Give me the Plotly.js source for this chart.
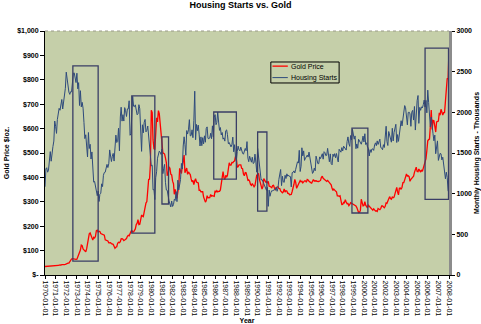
<!DOCTYPE html>
<html>
<head>
<meta charset="utf-8">
<script src="https://cdn.plot.ly/plotly-3.0.1.min.js"></script>
<style>
  html, body { margin: 0; padding: 0; background: #ffffff; }
  #chart { width: 481px; height: 324px; }
</style>
</head>
<body>
<div id="chart"></div>
<script>
// Monthly series, Jan 1970 .. Jan 2008
var startYear = 1970;
var seriesNames = ['Gold Price', 'Housing Starts'];
var housingStarts = [
  1085,1305,1319,1264,1290,1385,1517,1399,1534,1580,1647,1893,
  1828,1741,1910,1986,2049,2026,2083,2158,2041,2128,2182,2295,
  2494,2390,2334,2249,2221,2254,2252,2382,2481,2485,2421,2366,
  2481,2289,2365,2084,2266,2067,2123,2051,1874,1677,1724,1526,
  1451,1752,1555,1607,1426,1513,1316,1142,1150,1070,1026,975,
  1032,904,993,1005,1121,1087,1226,1260,1264,1344,1360,1321,
  1367,1538,1421,1395,1459,1495,1401,1550,1720,1629,1641,1804,
  1527,1943,2063,1892,1971,1893,2058,2020,1949,2042,2042,2142,
  1718,1738,2032,2197,2075,2070,2092,1996,1970,1981,2094,2044,
  1630,1520,1847,1748,1876,1913,1760,1778,1832,1681,1524,1498,
  1341,1350,1047,1051,927,1196,1269,1436,1471,1523,1510,1482,
  1547,1246,1306,1360,1140,1045,1041,940,911,873,837,910,
  843,866,931,917,1025,902,1166,1046,1144,1173,1372,1303,
  1586,1699,1606,1472,1776,1733,1785,1910,1710,1715,1785,1688,
  1897,2260,1663,1851,1774,1843,1732,1586,1698,1590,1689,1612,
  1711,1632,1800,1821,1680,1676,1684,1743,1676,1834,1698,1942,
  1972,1848,1876,2004,1880,1778,1813,1722,1752,1670,1686,1646,
  1774,1784,1726,1614,1628,1594,1575,1605,1695,1515,1602,1461,
  1399,1519,1584,1539,1527,1572,1523,1498,1485,1544,1556,1528,
  1640,1437,1393,1460,1400,1387,1448,1371,1379,1486,1387,1264,
  1557,1464,1302,1227,1168,1174,1156,1123,1095,1051,1041,1078,
  844,1044,968,1013,1037,1036,1040,1049,1043,1079,1029,1069,
  1176,1250,1297,1099,1214,1145,1139,1226,1186,1244,1214,1227,
  1210,1210,1083,1258,1260,1280,1254,1300,1343,1392,1376,1533,
  1272,1337,1564,1465,1526,1409,1439,1450,1474,1450,1511,1455,
  1407,1316,1249,1267,1314,1281,1461,1416,1369,1369,1452,1431,
  1467,1491,1424,1516,1504,1467,1472,1557,1475,1392,1489,1370,
  1355,1486,1457,1492,1442,1494,1437,1390,1546,1520,1510,1566,
  1525,1584,1567,1540,1536,1641,1698,1614,1582,1715,1660,1792,
  1748,1670,1710,1553,1611,1559,1669,1648,1635,1608,1648,1708,
  1636,1737,1604,1626,1575,1559,1463,1541,1507,1549,1551,1532,
  1600,1625,1590,1649,1605,1636,1670,1567,1562,1540,1602,1568,
  1698,1829,1642,1592,1764,1717,1655,1633,1804,1648,1753,1788,
  1853,1629,1726,1643,1751,1867,1897,1833,1939,1967,2083,2057,
  1911,1846,1998,2003,1981,1828,2002,2024,1905,2072,1782,2042,
  2144,2207,1864,2061,2025,2068,2054,2095,2151,2065,2147,1994,
  2273,2119,1969,1821,1942,1802,1737,1650,1720,1491,1570,1649,
  1409,1480,1495,1490,1415,1448,1354,1330,1183,1264,1197,1037,
  1010
];
var goldPrice = [
  34.9,35.0,35.1,35.6,35.9,35.4,35.3,35.4,36.2,37.5,37.4,37.4,
  37.9,38.7,38.9,39.0,40.5,40.1,41.0,42.7,42.0,42.5,42.9,43.5,
  45.8,48.3,48.3,49.0,54.6,62.1,65.7,67.0,65.5,64.9,62.9,63.9,
  65.1,74.2,84.4,90.5,102.0,122.5,120.2,106.7,103.0,100.1,94.8,106.7,
  129.2,150.2,168.4,172.2,163.3,154.1,143.0,154.6,151.8,158.8,181.7,183.9,
  176.3,179.6,178.2,169.9,167.4,164.3,165.0,163.0,144.1,142.8,142.8,139.3,
  131.6,131.0,132.6,128.2,127.8,125.5,117.8,109.3,114.2,116.0,130.3,133.9,
  132.3,136.3,148.2,149.2,146.6,140.8,143.1,144.9,149.6,158.3,162.4,160.6,
  173.2,178.2,183.7,175.6,176.2,183.3,188.8,206.7,212.5,227.3,206.3,207.8,
  227.3,245.7,242.0,239.2,257.6,279.1,294.7,300.8,355.2,391.7,392.5,455.1,
  675.3,665.3,553.6,517.4,513.8,600.7,644.3,627.2,673.6,661.2,623.5,594.9,
  557.4,500.5,498.6,495.8,479.7,460.8,409.3,410.2,443.6,437.8,413.4,410.1,
  384.4,374.2,330.8,350.5,333.5,314.0,340.4,364.8,436.9,422.2,415.8,444.4,
  481.3,491.3,419.4,432.5,438.4,412.7,422.4,416.5,411.8,393.6,381.5,388.0,
  370.9,386.0,394.8,381.1,377.7,377.6,347.4,348.0,341.1,340.2,341.2,320.2,
  303.0,298.6,304.0,324.9,316.5,316.4,317.2,330.1,323.5,325.3,325.3,322.3,
  345.4,338.9,345.7,340.4,342.4,342.6,348.7,376.4,418.2,423.5,399.0,391.0,
  408.3,401.1,408.9,438.4,460.1,450.0,450.0,461.1,460.1,465.4,467.4,486.3,
  476.6,442.1,443.6,451.6,451.5,451.4,437.4,435.8,413.3,406.6,420.1,418.7,
  404.0,388.0,390.0,384.1,371.0,367.6,375.0,365.4,361.8,366.7,394.3,409.4,
  410.1,416.7,393.1,374.3,369.0,352.2,362.5,394.8,389.3,380.8,381.9,378.2,
  383.6,363.8,363.3,358.4,357.4,366.7,367.7,356.3,348.7,358.7,360.0,361.7,
  354.5,353.9,344.3,338.6,337.2,340.8,353.1,340.0,345.4,344.4,335.0,334.8,
  329.0,329.3,330.1,342.2,367.2,371.9,392.0,379.8,355.3,364.2,373.8,383.3,
  386.9,381.7,384.2,377.5,381.9,385.6,385.5,380.4,391.6,389.8,384.4,379.3,
  378.6,376.5,382.3,391.2,385.4,387.6,386.2,383.7,383.1,383.1,385.3,387.5,
  399.9,404.8,396.3,392.9,391.9,385.3,383.5,387.5,383.1,381.1,377.9,369.3,
  355.0,346.6,351.8,344.5,343.8,340.8,324.1,324.0,322.8,324.9,306.0,288.7,
  289.1,297.5,295.9,308.4,299.1,292.3,292.9,284.1,288.9,296.1,294.1,291.6,
  287.1,287.3,285.9,282.6,276.4,261.3,256.1,256.7,264.7,310.7,293.2,283.1,
  284.6,300.9,286.4,279.8,275.3,285.7,281.6,274.5,273.7,270.1,266.0,271.5,
  265.5,261.9,263.0,260.5,272.4,270.2,267.5,272.4,283.4,283.1,276.2,275.9,
  281.7,295.5,294.0,302.7,314.5,321.2,313.3,310.3,319.2,316.6,319.1,332.6,
  356.9,359.0,340.6,328.2,355.7,356.4,351.0,359.8,378.9,378.9,389.9,407.6,
  414.0,405.3,406.7,403.0,383.8,392.4,398.1,400.5,405.3,420.5,439.4,441.8,
  424.0,423.4,434.2,429.2,421.9,430.7,424.5,437.9,456.0,469.9,476.7,509.8,
  549.9,555.0,557.1,610.6,676.5,596.2,633.7,632.6,598.2,585.8,627.8,629.8,
  631.2,664.8,654.9,679.4,666.9,655.5,665.3,665.4,712.7,754.6,806.3,803.2,
  925.0
];

// Highlight boxes: [start date, end date, low, high] on the gold-price axis
var boxStart = ['1972-08-15','1978-03-01','1981-01-01','1985-11-15','1990-01-01','1998-11-15','2005-10-01'];
var boxEnd   = ['1975-01-01','1980-05-01','1981-08-15','1988-01-01','1990-11-15','2000-05-15','2007-12-15'];
var boxLow   = [57, 172, 291, 393, 262, 254, 310];
var boxHigh  = [857, 734, 566, 668, 586, 602, 930];

var goldTickVals = [0,100,200,300,400,500,600,700,800,900,1000];
var goldTickText = ['$-','$100','$200','$300','$400','$500','$600','$700','$800','$900','$1,000'];
var housingTickVals = [0,500,1000,1500,2000,2500,3000];

var seriesColors = ['#ff0000', '#2e4a7c'];

function pad(n){ return (n < 10 ? '0' : '') + n; }
var dates = [];
for (var i = 0; i < goldPrice.length; i++) {
  var y = startYear + Math.floor(i / 12);
  var m = (i % 12) + 1;
  dates.push(y + '-' + pad(m) + '-01');
}

var FONT = 'Liberation Sans, Arial, sans-serif';
var boxColor = '#3a3e66';

var shapes = [];
for (var b = 0; b < boxStart.length; b++) {
  shapes.push({
    type: 'rect', xref: 'x', yref: 'y',
    x0: boxStart[b], x1: boxEnd[b], y0: boxLow[b], y1: boxHigh[b],
    line: { color: boxColor, width: 1.3 }, fillcolor: 'rgba(0,0,0,0)', layer: 'above'
  });
}
// dotted top border of the plot area
shapes.push({
  type: 'line', xref: 'paper', yref: 'paper', x0: 0, x1: 1, y0: 1, y1: 1,
  line: { color: '#9a9a8a', width: 1, dash: 'dot' }
});

// compact legend box (drawn in paper space)
var legX0 = 0.559, legX1 = 0.728, legY0 = 0.787, legY1 = 0.873;
var legRowY = [0.856, 0.809];
shapes.push({
  type: 'rect', xref: 'paper', yref: 'paper',
  x0: legX0, x1: legX1, y0: legY0, y1: legY1,
  line: { color: '#000000', width: 1 }, fillcolor: 'rgba(0,0,0,0)', layer: 'above'
});
var annotations = [];
for (var s = 0; s < seriesNames.length; s++) {
  shapes.push({
    type: 'line', xref: 'paper', yref: 'paper',
    x0: legX0 + 0.004, x1: legX0 + 0.042, y0: legRowY[s], y1: legRowY[s],
    line: { color: seriesColors[s], width: s === 0 ? 1.3 : 1 }, layer: 'above'
  });
  annotations.push({
    xref: 'paper', yref: 'paper', x: legX0 + 0.045, y: legRowY[s],
    xanchor: 'left', yanchor: 'middle', showarrow: false,
    text: seriesNames[s], font: { family: FONT, size: 7, color: '#000000' }
  });
}

var traces = [
  {
    x: dates, y: goldPrice, name: seriesNames[0], type: 'scatter', mode: 'lines',
    line: { color: seriesColors[0], width: 1.3 }, yaxis: 'y'
  },
  {
    x: dates, y: housingStarts, name: seriesNames[1], type: 'scatter', mode: 'lines',
    line: { color: seriesColors[1], width: 1 }, yaxis: 'y2'
  }
];

var layout = {
  width: 481, height: 324,
  margin: { l: 45, r: 32, t: 31, b: 49 },
  paper_bgcolor: '#ffffff',
  plot_bgcolor: '#c5cfa9',
  font: { family: FONT, size: 7, color: '#000000' },
  title: {
    text: '<b>Housing Starts vs. Gold</b>',
    font: { family: FONT, size: 9, color: '#000000' },
    x: 0.5, xanchor: 'center', y: 0.995, yanchor: 'top'
  },
  showlegend: false,
  xaxis: {
    type: 'date',
    range: ['1970-01-01', '2008-01-01'],
    tick0: '1970-01-01', dtick: 'M12', tickformat: '%Y-%m-%d',
    tickangle: 90,
    ticks: 'outside', ticklen: 3, tickcolor: '#000000',
    tickfont: { family: FONT, size: 7, color: '#000000' },
    showgrid: false, zeroline: false,
    showline: true, linecolor: '#000000', linewidth: 1,
    title: { text: '<b>Year</b>', font: { family: FONT, size: 7 }, standoff: 2 }
  },
  yaxis: {
    range: [0, 1000],
    tickmode: 'array', tickvals: goldTickVals, ticktext: goldTickText,
    ticks: 'outside', ticklen: 4, tickcolor: '#000000',
    tickfont: { family: FONT, size: 7, color: '#000000', weight: 'bold' },
    showgrid: false, zeroline: false,
    showline: true, linecolor: '#000000', linewidth: 1,
    title: { text: '<b>Gold Price $/oz.</b>', font: { family: FONT, size: 7 }, standoff: 6 }
  },
  yaxis2: {
    range: [0, 3000], overlaying: 'y', side: 'right',
    tickmode: 'array', tickvals: housingTickVals,
    ticks: 'outside', ticklen: 3, tickcolor: '#000000',
    tickfont: { family: FONT, size: 7, color: '#000000', weight: 'bold' },
    showgrid: false, zeroline: false,
    showline: true, linecolor: '#8c8c8c', linewidth: 3,
    title: { text: '<b>Monthly Housing Starts - Thousands</b>', font: { family: FONT, size: 7 }, standoff: 5 }
  },
  shapes: shapes,
  annotations: annotations
};

Plotly.newPlot('chart', traces, layout, { displayModeBar: false, staticPlot: true });
</script>
</body>
</html>
